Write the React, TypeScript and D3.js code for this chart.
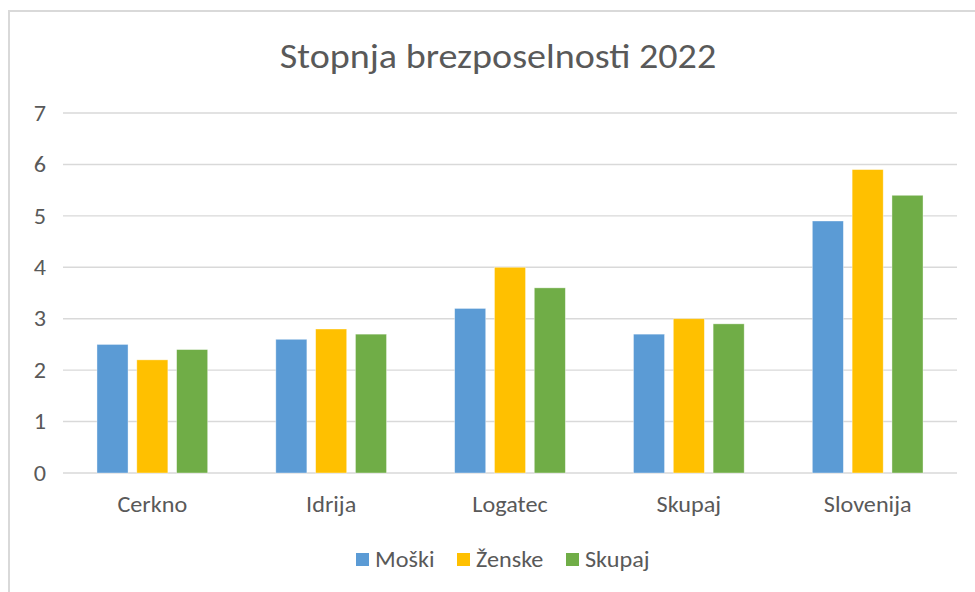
import {useEffect} from "react"
import * as d3 from "d3"

const categories = ["Cerkno", "Idrija", "Logatec", "Skupaj", "Slovenija"]
const seriesNames = ["Moški", "Ženske", "Skupaj"]
const moski = [2.5, 2.6, 3.2, 2.7, 4.9]
const zenske = [2.2, 2.8, 4.0, 3.0, 5.9]
const skupaj = [2.4, 2.7, 3.6, 2.9, 5.4]
const yTicks = [0, 1, 2, 3, 4, 5, 6, 7]
const colors = ["#5B9BD5", "#FFC000", "#70AD47"]

const font = "Carlito, Calibri, Lato, 'Open Sans', sans-serif"
const textColor = "#595959"
const gridColor = "#d9d9d9"

// the reference text is a bit wider than our font, so stretch it a little
function Label(props: {
  x: number
  y: number
  size: number
  stretch?: number
  anchor?: string
  dy?: string
  children: any
}) {
  return (
    <text
      transform={`translate(${props.x},${props.y}) scale(${props.stretch ?? 1.1},1)`}
      dy={props.dy}
      textAnchor={props.anchor ?? "middle"}
      fontFamily={font}
      fontSize={props.size}
      fill={textColor}
    >
      {props.children}
    </text>
  )
}

export default function App() {
  const width = 975
  const height = 592
  const margin = {top: 113, bottom: 119, left: 63, right: 18}

  useEffect(() => {
    document.body.style.margin = "0"
  }, [])

  const values = [moski, zenske, skupaj]
  const x0 = d3
    .scaleBand()
    .domain(categories)
    .range([margin.left, width - margin.right])
    .paddingInner(0.381)
    .paddingOuter(0.19)
  const x1 = d3
    .scaleBand()
    .domain(seriesNames.map((_, i) => String(i)))
    .range([0, x0.bandwidth()])
    .paddingInner(0.22)
  const y = d3
    .scaleLinear()
    .domain([0, 7])
    .range([height - margin.bottom, margin.top])

  // legend layout
  const legendX = [356, 457, 566]

  return (
    <svg width={width} height={height} style={{display: "block", background: "#fff"}}>
      <rect x={9} y={11} width={width + 20} height={height + 20} fill="#fff" stroke={gridColor} strokeWidth={2} />
      <Label x={498} y={68} size={34} stretch={1.12}>
        Stopnja brezposelnosti 2022
      </Label>
      <g>
        {yTicks.map((t) => (
          <g key={t}>
            <line
              x1={margin.left}
              x2={width - margin.right}
              y1={y(t)}
              y2={y(t)}
              stroke={gridColor}
              strokeWidth={1.4}
            />
            <Label x={40} y={y(t)} dy="0.35em" size={22}>
              {t}
            </Label>
          </g>
        ))}
      </g>
      <g>
        {categories.map((c, ci) => (
          <g key={c} transform={`translate(${x0(c)},0)`}>
            {values.map((s, si) => (
              <rect
                key={si}
                x={x1(String(si))}
                width={x1.bandwidth()}
                y={y(s[ci])}
                height={y(0) - y(s[ci])}
                fill={colors[si]}
                stroke="#fff"
                strokeOpacity={0.5}
                strokeWidth={0.75}
              />
            ))}
          </g>
        ))}
      </g>
      <g>
        {categories.map((c) => (
          <Label key={c} x={(x0(c) ?? 0) + x0.bandwidth() / 2} y={512} size={22}>
            {c}
          </Label>
        ))}
      </g>
      <g>
        {seriesNames.map((n, i) => (
          <g key={n} transform={`translate(${legendX[i]},553)`}>
            <rect width={13} height={13} fill={colors[i]} />
            <Label x={19} y={6.5} dy="0.35em" size={22} anchor="start">
              {n}
            </Label>
          </g>
        ))}
      </g>
    </svg>
  )
}
